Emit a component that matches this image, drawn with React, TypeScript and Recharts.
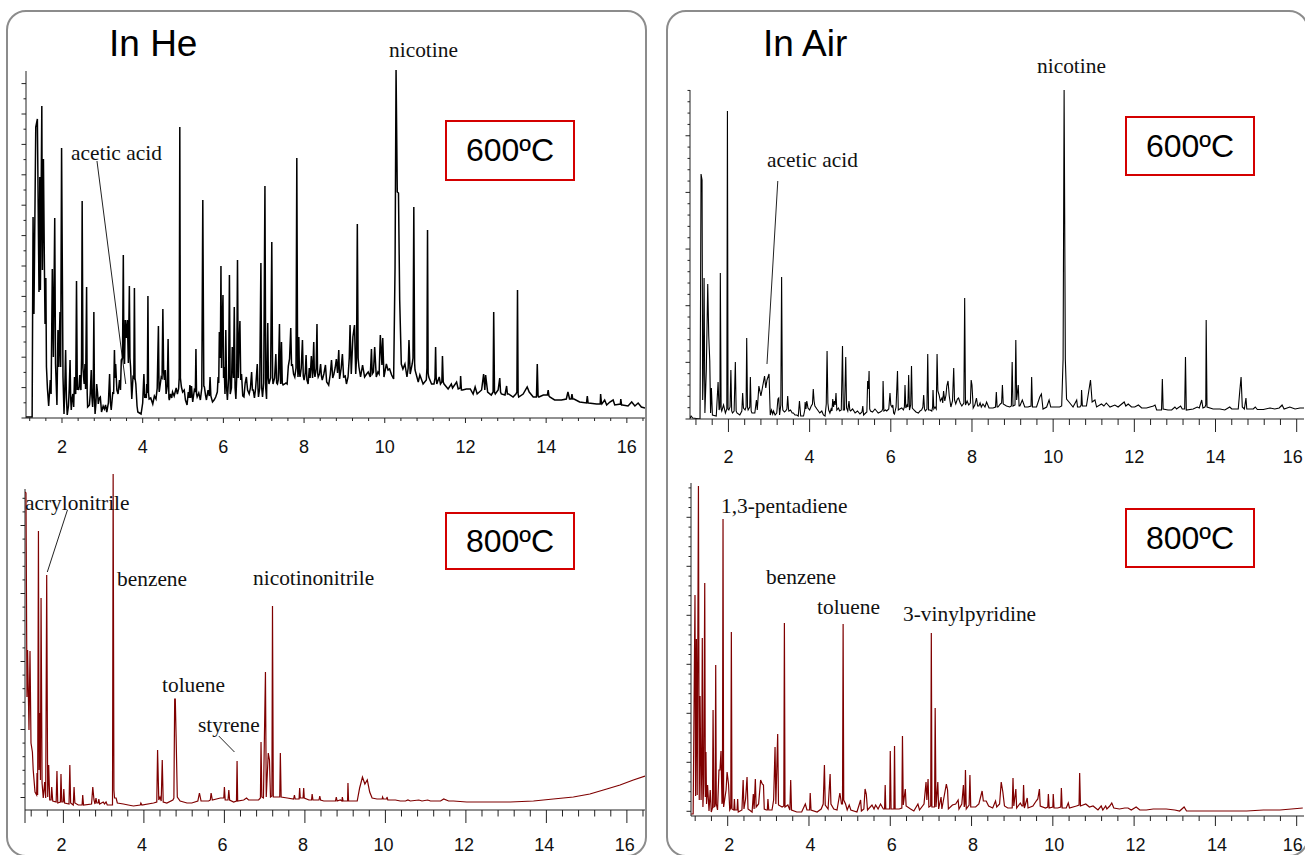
import { Line, LineChart, ReferenceLine, XAxis, YAxis } from "recharts";

// retention time (min), abundance; abundance scale is arbitrary
const he600: number[][] = [
  [1.11,1],[1.26,1],[1.283,201],[1.305,104],[1.35,291],[1.39,299],[1.43,126],[1.45,241],[1.465,128],[1.5,312],[1.515,148],[1.54,259],[1.565,148],[1.58,94],[1.6,140],[1.615,51],[1.64,29],[1.67,12],
  [1.71,38],[1.73,24],[1.76,149],[1.786,61],[1.82,200],[1.84,54],[1.875,13],[1.9,88],[1.92,51],[1.95,106],[1.967,51],[1.99,270],[2.025,41],
  [2.05,4],[2.07,30],[2.09,68],[2.11,20],[2.13,3],[2.16,12],[2.18,30],[2.2,58],[2.215,20],[2.23,8],[2.25,20],[2.27,24],[2.29,11],[2.31,41],[2.33,26],[2.34,24],[2.36,137],[2.38,28],[2.39,31],[2.415,28],[2.44,43],[2.46,30],[2.47,28],[2.485,60],[2.5,217],
  [2.52,50],[2.535,41],[2.55,34],[2.57,54],[2.585,29],[2.61,131],[2.625,25],[2.635,11],[2.66,12],[2.68,13],[2.7,24],[2.725,48],[2.74,22],[2.76,11],[2.775,30],[2.79,106],[2.805,20],[2.82,4],[2.84,14],[2.86,34],[2.88,26],[2.9,14],[2.925,20],[2.95,21],
  [2.98,6],[3.02,12],[3.05,9],[3.08,13],[3.11,6],[3.15,15],[3.18,44],[3.2,16],[3.22,8],[3.26,26],[3.28,24],[3.3,68],[3.315,40],[3.33,54],[3.36,28],[3.39,24],[3.425,38],[3.45,28],[3.47,58],[3.5,60],[3.52,163],[3.535,60],[3.55,54],[3.57,98],[3.6,80],[3.62,98],
  [3.645,55],[3.67,132],[3.685,60],[3.7,51],[3.73,19],[3.76,41],[3.78,40],[3.795,130],[3.81,40],[3.83,34],[3.86,12],[3.88,6],[3.92,5],[3.96,4],[4.0,15],[4.03,44],[4.05,20],[4.06,24],[4.09,20],[4.1,34],[4.115,25],[4.13,122],[4.145,25],[4.16,19],[4.2,20],[4.25,14],
  [4.29,22],[4.33,19],[4.36,30],[4.39,92],[4.405,30],[4.41,26],[4.44,35],[4.46,41],[4.48,40],[4.5,109],[4.52,45],[4.54,38],[4.56,48],[4.58,24],[4.61,32],[4.63,79],[4.65,20],[4.66,18],[4.69,24],[4.72,20],[4.74,26],[4.78,22],[4.83,30],[4.86,24],[4.89,29],
  [4.905,40],[4.92,291],[4.935,40],[4.96,31],[4.99,26],[5.03,28],[5.06,18],[5.1,13],[5.13,26],[5.15,20],[5.17,33],[5.19,20],[5.21,32],[5.24,16],[5.28,28],[5.305,26],[5.32,69],[5.335,24],[5.35,21],[5.39,25],[5.43,18],[5.465,30],[5.49,218],[5.515,32],[5.53,31],
  [5.56,22],[5.58,18],[5.62,28],[5.65,22],[5.67,41],[5.69,22],[5.73,16],[5.77,18],[5.81,21],[5.85,26],[5.87,41],[5.885,35],[5.9,86],[5.925,60],[5.94,152],[5.955,50],[5.965,81],[5.99,123],[6.005,40],[6.02,51],[6.04,24],[6.06,88],[6.08,30],[6.1,18],[6.13,40],[6.15,143],
  [6.17,24],[6.2,30],[6.22,71],[6.25,40],[6.27,111],[6.29,30],[6.31,19],[6.33,40],[6.35,158],[6.37,40],[6.385,68],[6.41,97],[6.43,38],[6.45,44],[6.48,22],[6.51,21],[6.54,35],[6.57,41],[6.6,28],[6.64,24],[6.67,30],[6.7,46],[6.72,28],[6.74,28],[6.77,20],[6.8,30],
  [6.84,54],[6.86,28],[6.87,21],[6.9,30],[6.93,155],[6.95,30],[6.97,21],[7.0,35],[7.03,232],[7.05,30],[7.07,19],[7.1,95],[7.115,40],[7.13,34],[7.17,40],[7.2,176],[7.22,40],[7.23,34],[7.27,40],[7.3,64],[7.32,35],[7.34,34],[7.36,38],[7.39,94],[7.405,45],[7.42,34],
  [7.44,76],[7.46,35],[7.48,33],[7.52,34],[7.55,35],[7.58,34],[7.61,52],[7.64,59],[7.67,90],[7.69,52],[7.71,54],[7.74,44],[7.77,41],[7.8,50],[7.82,260],[7.84,50],[7.85,41],[7.87,81],[7.885,45],[7.9,41],[7.93,50],[7.96,78],[7.98,42],[8.0,38],[8.03,45],[8.05,63],
  [8.07,38],[8.1,34],[8.13,50],[8.15,40],[8.18,62],[8.21,40],[8.24,76],[8.255,45],[8.27,41],[8.3,50],[8.32,94],[8.335,45],[8.35,41],[8.38,44],[8.41,54],[8.43,42],[8.45,38],[8.49,44],[8.53,53],[8.56,36],[8.595,34],
  [8.61,33],[8.65,44],[8.68,58],[8.71,40],[8.74,44],[8.77,50],[8.8,59],[8.83,45],[8.86,68],[8.88,39],[8.92,50],[8.95,64],[8.98,41],[9.02,42],[9.05,34],[9.09,41],[9.12,60],[9.14,93],[9.17,44],[9.21,81],[9.25,93],[9.28,44],[9.3,60],[9.32,194],[9.34,60],[9.36,51],[9.4,41],[9.45,53],[9.5,41],
  [9.55,44],[9.59,46],[9.64,41],[9.67,69],[9.69,44],[9.72,46],[9.75,71],[9.79,41],[9.83,46],[9.86,44],[9.89,83],[9.93,53],[9.95,80],[9.98,41],[10.04,54],[10.08,48],[10.12,49],[10.17,43],[10.22,39],[10.255,151],[10.28,348],[10.31,226],[10.34,225],
  [10.37,118],[10.41,54],[10.45,49],[10.5,54],[10.55,41],[10.58,50],[10.6,78],[10.63,44],[10.68,54],[10.7,60],[10.72,211],[10.74,55],[10.75,48],[10.83,36],[10.87,43],[10.95,34],[11.03,38],[11.045,50],[11.06,188],[11.075,45],[11.09,41],[11.16,34],[11.22,34],[11.245,40],[11.26,71],[11.275,40],[11.29,34],
  [11.35,41],[11.38,34],[11.415,36],[11.43,62],[11.45,36],[11.47,34],[11.57,29],[11.65,34],[11.68,30],[11.78,36],[11.82,29],[11.87,30],[11.88,42],[11.9,28],[11.93,28],[12.02,29],[12.12,29],[12.19,24],[12.24,31],[12.29,24],[12.4,28],[12.45,44],[12.48,28],[12.5,43],[12.55,26],
  [12.64,23],[12.685,26],[12.7,106],[12.72,26],[12.74,24],[12.81,28],[12.85,40],[12.87,26],[12.89,24],[12.98,23],[13.02,32],[13.04,24],[13.07,24],[13.18,21],[13.25,24],[13.275,26],[13.29,128],[13.305,24],[13.32,21],[13.43,24],[13.53,31],[13.58,26],[13.68,21],[13.76,21],[13.78,54],[13.8,22],[13.82,21],
  [13.93,23],[14.03,23],[14.05,28],[14.07,22],[14.09,21],[14.21,18],[14.38,18],[14.5,19],[14.54,26],[14.58,19],[14.62,19],[14.64,24],[14.66,19],[14.69,19],[14.83,16],[15,15],[15.02,22],[15.04,15],[15.05,15],[15.25,14],[15.34,14],[15.35,24],[15.37,15],[15.38,14],[15.45,18],[15.5,13],[15.58,16],
  [15.66,18],[15.7,13],[15.84,14],[15.85,19],[15.87,13],[15.89,13],[16.03,12],[16.12,16],[16.2,12],[16.28,15],[16.36,11],[16.45,10],
];

const he800: number[][] = [
  [1.05,318],[1.07,317],[1.095,113],[1.11,160],[1.145,80],[1.17,159],[1.195,67],[1.23,58],[1.25,40],[1.295,18],[1.335,15],[1.345,37],[1.36,15],[1.38,279],[1.395,40],[1.41,97],[1.43,30],[1.445,212],[1.47,27],[1.5,12],
  [1.535,28],[1.56,12],[1.585,235],[1.61,13],[1.635,45],[1.66,10],[1.695,10],[1.71,23],[1.735,9],[1.82,8],[1.84,39],[1.86,7],[1.925,8],[1.94,36],[1.96,8],[1.995,8],[2.01,21],[2.03,7],[2.14,6],[2.16,45],[2.18,7],[2.245,5],[2.265,23],
  [2.285,7],[2.37,5],[2.465,5],[2.48,15],[2.5,5],[2.7,6],[2.73,23],[2.76,10],[2.785,6],[2.81,12],[2.83,7],[2.865,7],[2.88,11],[2.9,6],[2.99,8],[3.02,6],[3.06,8],[3.09,5],[3.22,5],[3.236,336],[3.255,20],[3.27,12],[3.31,12],
  [3.34,7],[3.49,6],[3.61,5],[3.74,4],[3.91,5],[3.925,7],[3.95,5],[4.24,7],[4.32,8],[4.34,60],[4.37,10],[4.4,13],[4.43,9],[4.456,50],[4.48,8],[4.57,7],[4.72,10],[4.745,12],[4.765,111],[4.78,111],[4.8,74],[4.83,13],
  [4.9,9],[5.07,7],[5.19,7],[5.34,9],[5.38,17],[5.42,9],[5.61,9],[5.65,10],[5.67,17],[5.7,10],[5.9,12],[5.985,12],[6.0,23],[6.02,10],[6.09,10],[6.11,20],[6.13,10],[6.23,8],[6.3,9],[6.315,49],[6.33,9],[6.48,10],[6.55,12],[6.6,10],
  [6.72,10],[6.85,10],[6.895,12],[6.91,68],[6.93,13],[6.97,12],[7.02,138],[7.04,13],[7.09,57],[7.12,50],[7.145,13],[7.18,14],[7.195,204],[7.215,13],[7.31,13],[7.375,13],[7.39,57],[7.41,13],[7.56,12],[7.72,11],[7.74,15],[7.76,11],
  [7.855,11],[7.87,22],[7.885,12],[7.955,12],[7.97,22],[7.985,12],[8.1,10],[8.165,10],[8.18,16],[8.2,10],[8.35,10],[8.37,14],[8.39,10],
  [8.47,9],[8.64,9],[8.76,9],[8.78,13],[8.8,9],[8.88,10],[8.92,9],[8.93,13],[8.95,9],[9.03,9],[9.06,9],[9.07,27],[9.085,9],[9.3,9],[9.36,22],[9.43,33],[9.49,26],[9.55,30],[9.61,18],[9.67,12],[9.79,11],[9.92,11],[9.93,13],
  [9.95,11],[10.03,11],[10.04,13],[10.06,10],[10.25,10],[10.37,9],[10.5,9],[10.56,10],[10.62,9],[10.83,10],[10.91,9],[11.05,10],[11.12,9],[11.37,9],[11.45,11],[11.57,9],[11.69,9],[12.02,8],[12.5,8],[13.1,8],[13.68,9],
  [14.17,11],[14.67,13],[15.08,16],[15.5,21],[15.83,25],[16.16,30],[16.45,34],
];

const air600: number[][] = [
  [1.06,1],[1.08,3],[1.12,1],[1.3,0],[1.325,245],[1.35,239],[1.365,19],[1.38,44],[1.4,141],[1.42,6],[1.455,49],[1.49,135],[1.515,83],[1.54,58],[1.56,6],[1.58,31],[1.605,4],[1.7,3],[1.745,37],[1.77,9],
  [1.79,12],[1.8,146],[1.82,10],[1.835,8],[1.88,14],[1.925,6],[1.96,10],[1.975,308],[1.99,10],[2.01,9],[2.04,12],[2.06,49],[2.08,8],[2.1,6],[2.14,8],[2.17,57],[2.19,8],[2.21,6],[2.28,4],[2.33,8],[2.35,26],[2.37,11],[2.41,9],[2.435,12],[2.45,81],[2.47,12],[2.485,9],[2.525,12],[2.54,42],[2.56,8],[2.58,6],[2.65,6],
  [2.69,19],[2.71,9],[2.75,33],[2.8,23],[2.89,43],[2.92,31],[2.95,39],[3.0,45],
  [3.03,4],[3.06,9],[3.09,5],[3.11,8],[3.15,4],[3.19,6],[3.22,20],[3.24,21],[3.26,4],[3.29,14],[3.31,142],[3.33,14],[3.34,9],[3.38,7],[3.41,8],[3.44,10],[3.46,23],[3.48,10],[3.49,8],[3.53,9],[3.57,6],[3.6,6],[3.64,4],[3.68,4],[3.72,3],[3.75,18],[3.77,8],[3.78,3],[3.82,3],[3.85,3],[3.88,9],[3.89,17],
  [3.91,10],[3.93,18],[3.96,11],[4.0,9],[4.04,13],[4.07,15],[4.09,30],[4.11,18],[4.13,13],[4.18,10],[4.25,6],[4.3,8],[4.34,4],[4.38,3],[4.41,15],[4.43,68],[4.45,16],[4.47,9],[4.5,6],[4.53,10],[4.55,8],[4.57,20],[4.59,12],[4.61,18],[4.63,14],[4.65,26],[4.67,9],[4.71,11],[4.74,8],[4.78,9],
  [4.81,73],[4.83,9],[4.86,9],[4.89,62],[4.91,11],[4.94,8],[4.97,18],[4.99,9],[5.01,8],[5.06,10],[5.12,6],[5.18,8],[5.24,5],[5.29,7],[5.31,13],[5.33,4],[5.38,6],[5.41,7],[5.43,38],[5.45,30],[5.465,48],[5.48,10],[5.5,8],[5.55,7],[5.61,10],[5.65,8],[5.69,6],[5.74,7],[5.78,8],[5.8,10],
  [5.81,38],[5.83,8],[5.87,9],[5.9,8],[5.95,10],[5.98,26],[6.0,14],[6.03,12],[6.05,14],[6.07,6],[6.09,5],[6.13,12],[6.165,48],[6.185,9],[6.22,10],[6.27,11],[6.31,9],[6.335,12],[6.35,34],[6.37,11],[6.4,14],[6.42,12],[6.44,44],[6.46,9],[6.49,14],[6.51,53],[6.53,11],[6.57,9],[6.62,7],[6.68,6],
  [6.72,8],[6.76,9],[6.79,12],[6.81,24],[6.83,10],[6.85,8],[6.89,10],[6.91,65],[6.93,9],[6.97,9],[7.01,8],[7.03,12],[7.04,29],[7.06,10],[7.09,12],[7.12,10],[7.14,65],[7.16,28],[7.19,24],[7.22,18],[7.26,21],[7.28,16],[7.3,28],[7.33,18],[7.36,24],[7.38,33],[7.41,38],[7.44,23],[7.48,12],[7.52,18],
  [7.55,51],[7.57,19],[7.6,15],[7.64,20],[7.67,21],[7.71,16],[7.75,13],[7.8,16],[7.82,121],[7.84,14],[7.88,18],[7.92,14],[7.96,16],[7.98,39],[8.0,34],[8.03,11],[8.07,14],[8.11,21],[8.14,13],[8.17,13],[8.2,16],[8.23,12],
  [8.27,15],[8.32,12],[8.36,17],[8.42,11],[8.52,11],[8.58,12],[8.6,27],[8.62,12],[8.64,12],[8.7,15],[8.73,16],[8.75,34],[8.77,15],[8.85,13],[8.93,12],[8.97,13],[8.99,57],[9.01,13],[9.06,14],[9.08,79],[9.1,19],[9.14,34],[9.16,13],[9.18,13],
  [9.24,19],[9.3,12],[9.38,12],[9.455,13],[9.47,42],[9.49,12],[9.59,12],[9.67,22],[9.71,25],[9.75,10],[9.84,12],[9.9,19],[9.94,12],[10.04,12],[10.16,12],[10.21,13],[10.245,60],[10.27,329],[10.3,60],[10.33,20],[10.39,17],
  [10.49,12],[10.58,19],[10.6,12],[10.66,12],[10.69,14],[10.7,29],[10.72,13],[10.82,13],[10.92,39],[10.96,17],[11.03,19],[11.07,12],[11.19,15],[11.25,13],[11.31,16],[11.4,12],[11.52,14],[11.6,12],[11.75,17],[11.79,13],[11.85,15],
  [11.93,12],[12.01,12],[12.1,14],[12.18,11],[12.3,11],[12.47,13],[12.51,14],[12.55,9],[12.67,9],[12.69,40],[12.71,10],[12.83,9],[12.92,9],[13,12],[13.04,10],[13.14,13],[13.18,10],[13.24,10],[13.26,62],[13.28,9],
  [13.45,10],[13.55,12],[13.6,11],[13.66,19],[13.69,11],[13.74,12],[13.76,14],[13.77,99],[13.79,12],[13.94,10],[14.11,10],[14.23,9],[14.35,12],[14.4,10],[14.56,10],[14.6,29],[14.63,42],[14.66,12],[14.71,10],[14.75,21],[14.77,10],
  [14.93,10],[14.98,12],[15.03,9.5],[15.18,9.5],[15.34,11],[15.46,10],[15.57,11],[15.64,14],[15.69,10],[15.83,12],[15.96,10],[16.08,11],[16.15,11],[16.18,11],
];

const air800: number[][] = [
  [1.1,2],[1.15,2],[1.195,221],[1.21,20],[1.23,177],[1.25,21],[1.28,330],[1.3,16],[1.32,120],[1.345,16],[1.36,47],[1.375,178],[1.39,9],[1.41,32],[1.435,233],[1.45,19],[1.465,64],[1.48,12],[1.505,31],[1.54,5],
  [1.57,26],[1.595,4],[1.625,8],[1.64,106],[1.66,9],[1.69,10],[1.705,151],[1.72,12],[1.75,6],[1.785,46],[1.81,46],[1.835,65],[1.86,12],[1.87,14],[1.885,297],[1.9,9],[1.96,26],[1.985,44],[2.02,32],[2.05,6],[2.075,8],[2.09,184],[2.105,7],[2.15,6],[2.165,17],
  [2.18,6],[2.23,6],[2.245,17],[2.26,4],[2.35,6],[2.38,36],[2.4,7],[2.44,17],[2.476,39],[2.5,7],[2.6,4],[2.63,22],[2.65,7],[2.68,37],[2.7,9],[2.76,12],[2.81,36],[2.85,32],[2.88,31],[2.9,7],[2.95,6],
  [2.975,6],[2.99,17],[3.01,6],[3.09,6],[3.13,16],[3.165,69],[3.185,12],[3.23,82],[3.25,11],[3.34,9],[3.38,10],[3.395,193],[3.41,9],[3.48,11],[3.53,6],[3.55,36],[3.57,6],[3.7,4],[3.82,4],[3.91,12],[3.95,6],[4.015,6],[4.03,23],
  [4.05,6],[4.2,4],[4.3,7],[4.35,12],[4.38,51],[4.4,11],[4.47,7],[4.52,42],[4.54,12],[4.61,7],[4.69,6],[4.76,23],[4.8,12],[4.825,12],[4.84,192],[4.855,16],[4.9,12],[4.94,6],[4.99,11],[5.03,6],[5.18,4],
  [5.27,16],[5.29,5],[5.35,7],[5.38,27],[5.41,22],[5.44,6],[5.55,11],[5.6,7],[5.64,11],[5.7,7],[5.76,12],[5.83,7],[5.86,7],[5.875,31],[5.89,7],[5.985,7],[6.0,65],[6.02,7],[6.09,7],[6.105,70],[6.12,7],[6.22,7],
  [6.285,8],[6.3,80],[6.32,11],[6.37,27],[6.39,10],[6.5,7],[6.58,5],[6.68,12],[6.72,6],[6.83,12],[6.88,34],[6.9,16],[6.93,37],[6.95,9],[6.995,10],[7.01,183],[7.025,9],[7.09,9],[7.105,108],[7.125,9],[7.17,34],[7.19,7],[7.25,19],
  [7.27,7],[7.38,32],[7.41,26],[7.43,7],[7.53,11],[7.61,12],[7.67,16],[7.69,7],[7.76,12],[7.8,31],[7.82,9],[7.835,12],[7.85,46],[7.87,7],[7.94,11],[7.96,41],[7.98,9],[8.1,9],[8.18,12],
  [8.26,25],[8.29,15],[8.36,15],[8.42,10],[8.52,8],[8.59,15],[8.62,9],[8.69,12],[8.73,34],[8.77,24],[8.81,10],[8.89,8],[9.0,8],[9.02,38],[9.04,10],[9.09,27],[9.11,8],[9.2,13],[9.24,10],[9.265,10],[9.28,31],
  [9.3,8],[9.37,18],[9.39,8],[9.51,10],[9.59,15],[9.63,17],[9.67,27],[9.69,10],[9.82,8],[9.875,9],[9.89,22],[9.91,8],[10.0,9],[10.01,22],[10.03,8],[10.12,8],[10.195,9],[10.21,28],[10.23,8],[10.33,8],[10.38,13],[10.41,8],[10.58,10],
  [10.645,11],[10.66,43],[10.68,10],[10.81,12],[10.9,9],[10.99,10],[11.11,6],[11.19,10],[11.23,6],[11.3,10],[11.33,7],[11.4,10],[11.45,13],[11.5,8],[11.64,7],[11.77,8],[11.85,8],[11.93,6],[12.05,9],[12.14,6],[12.3,6],
  [12.47,7],[12.63,7],[12.79,7],[13,6],[13.12,5],[13.23,9],[13.29,5],[13.53,5],[13.94,5],[14.35,5],[14.77,5],[15.18,6],[15.59,6],[16.15,8],
];

const timeTicks = [1.2,1.6,2,2.4,2.8,3.2,3.6,4,4.4,4.8,5.2,5.6,6,6.4,6.8,7.2,7.6,8,8.4,8.8,9.2,9.6,10,10.4,10.8,11.2,11.6,12,12.4,12.8,13.2,13.6,14,14.4,14.8,15.2,15.6,16,16.4];

const BLACK = "#000000";
const DARK_RED = "#7f0000";
const INK = "#222222";

function makeYTicks(start: number, step: number, top: number) {
  const out: number[] = [];
  for (let v = start; v <= top; v += step) out.push(v);
  return out;
}

function Trace({ data, color, left, right, top, bottom, xMin, xMax, axisTop, yStart, yStep, yEvery, majorLen, minorLen, labelDy, labelDx = 0, lastDx, strokeWidth, footTick, notes = [] }: any) {
  const plotH = bottom - top;
  const pad = 44;
  const under = 56;
  const ticks = timeTicks.filter((t) => t <= xMax);
  const allTicks = footTick ? [xMin, ...ticks] : ticks;
  return (
    <div style={{ position: "absolute", left: left - pad, top: top - 4 }}>
      <LineChart
        data={data.map(([t, v]: number[]) => ({ t, v }))}
        height={plotH + 4 + under}
        margin={{ top: 4, right: 2, bottom: 0, left: 0 }}
        width={right - left + pad + 2}
      >
        <XAxis
          allowDataOverflow
          axisLine={{ stroke: INK }}
          dataKey="t"
          domain={[xMin, xMax]}
          height={under}
          interval={0}
          scale="linear"
          tick={(p: any) => {
            const value = p.payload.value;
            const major = value % 2 === 0 || (footTick && value === xMin);
            const dx = value === 16 && lastDx !== undefined ? lastDx : labelDx;
            return (
              <g>
                <line stroke={INK} x1={p.x} x2={p.x} y1={p.y} y2={p.y + (major ? majorLen : minorLen)} />
                {value % 2 === 0 && (
                  <text dominantBaseline="central" fill="#111" fontFamily="Liberation Sans" fontSize={18} textAnchor="middle" x={p.x + dx} y={p.y + labelDy}>
                    {value}
                  </text>
                )}
              </g>
            );
          }}
          tickLine={false}
          tickMargin={0}
          tickSize={0}
          ticks={allTicks}
          type="number"
        />
        <YAxis
          allowDataOverflow
          axisLine={false}
          domain={[0, plotH]}
          interval={0}
          tick={(p: any) => {
            const major = Math.round((p.payload.value - yStart) / yStep) % yEvery === 0;
            return <line stroke={INK} x1={p.x - (major ? 4.5 : 2.5)} x2={p.x} y1={p.y} y2={p.y} />;
          }}
          tickLine={false}
          tickMargin={0}
          tickSize={0}
          ticks={makeYTicks(yStart, yStep, axisTop)}
          type="number"
          width={pad}
        />
        <ReferenceLine segment={[{ x: xMin, y: 0 }, { x: xMin, y: axisTop }]} stroke={INK} />
        {notes.map((n: number[], i: number) => (
          <ReferenceLine key={i} segment={[{ x: n[0], y: n[1] }, { x: n[2], y: n[3] }]} stroke={INK} />
        ))}
        <Line dataKey="v" dot={false} isAnimationActive={false} stroke={color} strokeWidth={strokeWidth} type="linear" />
      </LineChart>
    </div>
  );
}

function Panel({ left, width }: { left: number; width: number }) {
  return (
    <div
      style={{
        position: "absolute",
        left,
        top: 10,
        width,
        height: 847,
        boxSizing: "border-box",
        border: "2.5px solid #8c8c8c",
        borderRadius: 20,
      }}
    />
  );
}

function Note({ x, y, children }: { x: number; y: number; children: string }) {
  return (
    <div
      style={{
        position: "absolute",
        left: x,
        top: y,
        transform: "translateY(-50%)",
        fontFamily: "Liberation Serif",
        fontSize: 21.4,
        color: "#111",
        whiteSpace: "nowrap",
      }}
    >
      {children}
    </div>
  );
}

function Heading({ x, children }: { x: number; children: string }) {
  return (
    <div style={{ position: "absolute", left: x, top: 23, fontFamily: "Liberation Sans", fontSize: 37, lineHeight: "42px", color: "#000" }}>
      {children}
    </div>
  );
}

function TempBox({ x, y, h, children }: { x: number; y: number; h: number; children: string }) {
  return (
    <div
      style={{
        position: "absolute",
        left: x,
        top: y,
        width: 130,
        height: h,
        boxSizing: "border-box",
        border: "2px solid #d40000",
        display: "flex",
        alignItems: "center",
        justifyContent: "center",
        fontFamily: "Liberation Sans",
        fontSize: 32,
        color: "#000",
      }}
    >
      {children}
    </div>
  );
}

export default function App() {
  return (
    <div style={{ position: "absolute", left: 0, top: 0, width: 1305, height: 855, overflow: "hidden", background: "#fff" }}>
      <Panel left={6} width={641} />
      <Panel left={666} width={643} />

      <Trace data={he600} color={BLACK} left={26} right={645} top={70} bottom={418} xMin={1.108} xMax={16.45} axisTop={347} yStart={0} yStep={15.2} yEvery={2} majorLen={5} minorLen={3} labelDy={29} strokeWidth={1.5}
        notes={[[2.867, 257, 3.58, 34]]} />
      <Trace data={he800} color={DARK_RED} left={25} right={645} top={470} bottom={810} xMin={1.046} xMax={16.45} axisTop={321} yStart={12.5} yStep={13.6} yEvery={5} majorLen={13} minorLen={6.5} labelDy={35} labelDx={-2} strokeWidth={1.2} footTick
        notes={[[2.1, 300, 1.6, 238], [5.86, 74, 6.25, 58]]} />
      <Trace data={air600} color={BLACK} left={690} right={1304} top={88} bottom={419} xMin={1.053} xMax={16.18} axisTop={329} yStart={0} yStep={11.33} yEvery={5} majorLen={13} minorLen={6} labelDy={38} lastDx={-4} strokeWidth={1.1}
        notes={[[3.216, 238, 2.95, 55]]} />
      <Trace data={air800} color={DARK_RED} left={691} right={1304} top={480} bottom={816} xMin={1.097} xMax={16.18} axisTop={333} yStart={4.7} yStep={9.8} yEvery={5} majorLen={10} minorLen={5} labelDy={29} labelDx={1.5} lastDx={-4} strokeWidth={1.2} />

      <Heading x={109}>In He</Heading>
      <Heading x={763}>In Air</Heading>

      <TempBox x={445} y={120} h={61}>600ºC</TempBox>
      <TempBox x={445} y={512} h={58}>800ºC</TempBox>
      <TempBox x={1125} y={116} h={60}>600ºC</TempBox>
      <TempBox x={1125} y={508} h={60}>800ºC</TempBox>

      <Note x={389} y={50}>nicotine</Note>
      <Note x={71} y={153}>acetic acid</Note>
      <Note x={25} y={503}>acrylonitrile</Note>
      <Note x={117} y={579}>benzene</Note>
      <Note x={253} y={578}>nicotinonitrile</Note>
      <Note x={162} y={685}>toluene</Note>
      <Note x={198} y={725}>styrene</Note>
      <Note x={1037} y={66}>nicotine</Note>
      <Note x={767} y={160}>acetic acid</Note>
      <Note x={721} y={506}>1,3-pentadiene</Note>
      <Note x={766} y={577}>benzene</Note>
      <Note x={817} y={607}>toluene</Note>
      <Note x={903} y={614}>3-vinylpyridine</Note>
    </div>
  );
}
